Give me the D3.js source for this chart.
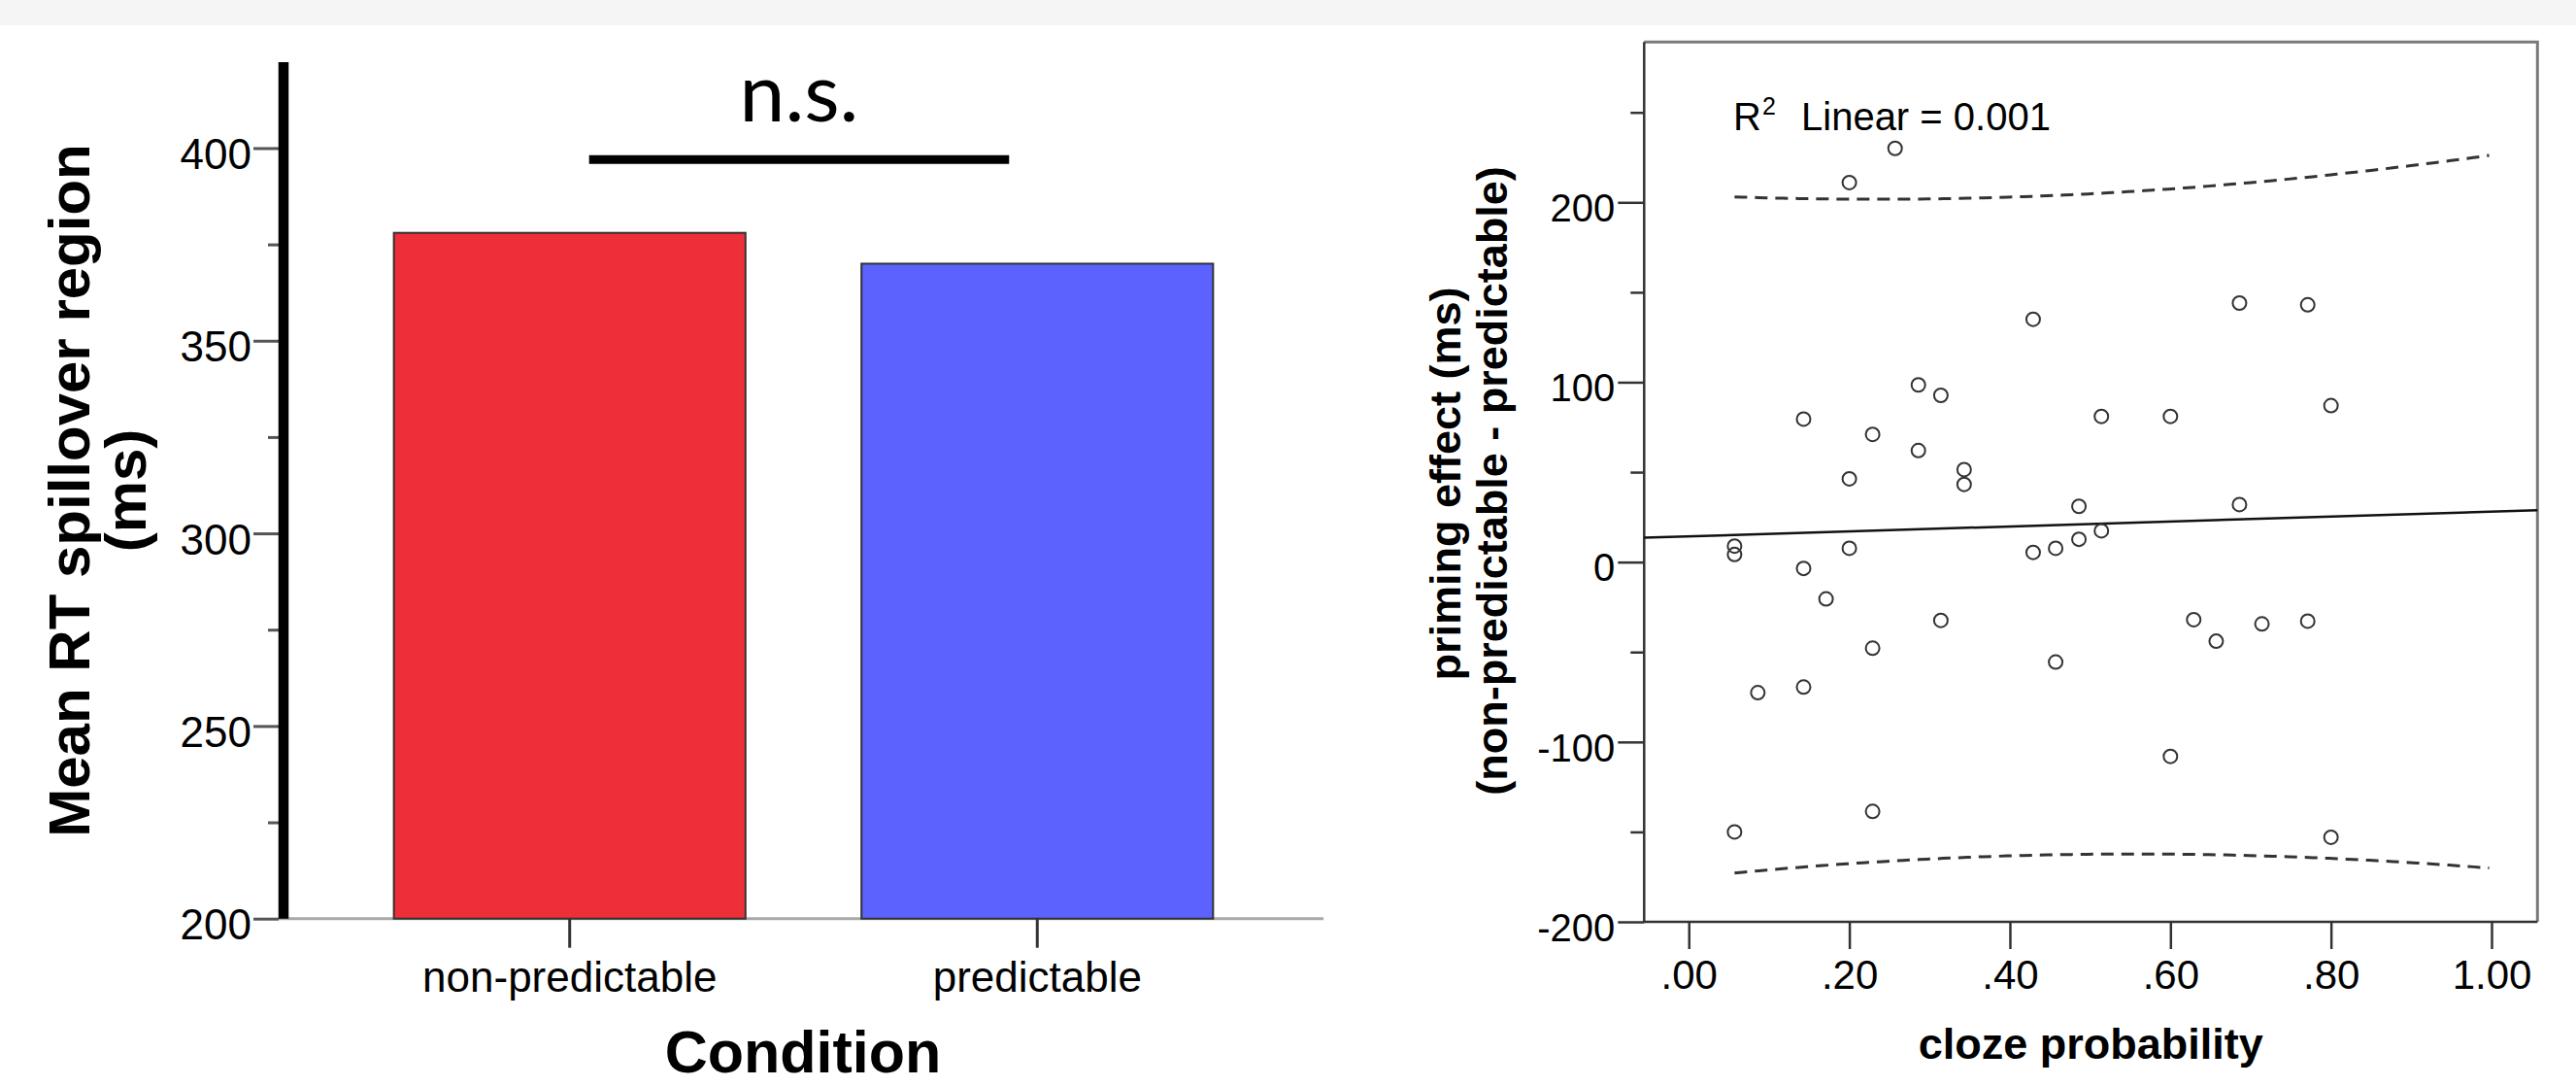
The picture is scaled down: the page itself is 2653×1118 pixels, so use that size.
<!DOCTYPE html>
<html lang="en">
	<head>
		<meta charset="UTF-8" />
		<title>Spillover RT and priming effect</title>
		<script src="https://d3js.org/d3.v7.min.js"></script>
		<style>
			body {
				margin: 0;
				padding: 0;
				background: #ffffff;
				font-family: "Liberation Sans", Arial, sans-serif;
			}
			svg {
				display: block;
			}
		</style>
	</head>
	<body>
		<svg width="2653" height="1118"></svg>
		<script>
			// ---- left panel data: mean RT per condition
			const categories = ["non-predictable", "predictable"];
			const meanRT = [378, 370];
			const barColors = ["#ee2f3a", "#5b62fe"];
			const rtTicks = [200, 250, 300, 350, 400];
			const rtMinorTicks = [225, 275, 325, 375];

			// ---- right panel data: cloze probability vs priming effect
			const cloze = [
				0.257, 0.2, 0.429, 0.686, 0.771, 0.286, 0.314, 0.143, 0.229, 0.514,
				0.6, 0.8, 0.286, 0.2, 0.343, 0.343, 0.486, 0.686, 0.514, 0.486,
				0.457, 0.429, 0.2, 0.057, 0.057, 0.143, 0.171, 0.314, 0.629, 0.657,
				0.714, 0.771, 0.229, 0.457, 0.086, 0.143, 0.6, 0.229, 0.057, 0.8,
			];
			const priming = [
				230, 211, 135, 144, 143, 98.5, 92.7, 79.5, 71, 81,
				81, 87, 62, 46.3, 51.4, 43.2, 31, 32, 17.4, 12.7,
				7.7, 5.4, 7.7, 8.9, 4.2, -3.5, -20.5, -32.4, -32, -44,
				-34.4, -32.8, -47.9, -55.6, -72.6, -69.5, -108, -138.6, -150, -153,
			];
			const clozeTicks = [0, 0.2, 0.4, 0.6, 0.8, 1.0];
			const primingTicks = [-200, -100, 0, 100, 200];
			const primingMinorTicks = [-150, -50, 50, 150, 250];
			const rSquared = "0.001";

			const svg = d3.select("svg");

			// faint slide background strip at the top
			svg
				.append("rect")
				.attr("x", 0)
				.attr("y", 0)
				.attr("width", 2653)
				.attr("height", 26)
				.style("fill", "#f5f5f5");

			// ================= LEFT: bar chart =================
			const y = d3.scaleLinear().domain([200, 422.3]).range([945.7, 64]);

			const x = d3
				.scaleBand()
				.domain(categories)
				.range([292, 1363])
				.paddingInner(0.248)
				.paddingOuter(0.236);

			const left = svg.append("g");

			// baseline
			left
				.append("line")
				.attr("x1", 287)
				.attr("x2", 1363)
				.attr("y1", y(200))
				.attr("y2", y(200))
				.style("stroke", "#a8a8a8")
				.style("stroke-width", 3);

			// bars
			left
				.selectAll(".bar")
				.data(meanRT)
				.enter()
				.append("rect")
				.attr("class", "bar")
				.attr("x", (d, i) => x(categories[i]))
				.attr("width", x.bandwidth())
				.attr("y", (d) => y(d))
				.attr("height", (d) => y(200) - y(d))
				.style("fill", (d, i) => barColors[i])
				.style("stroke", "#333")
				.style("stroke-width", 2);

			// minor ticks
			left
				.append("g")
				.attr("transform", "translate(287,0)")
				.call(d3.axisLeft(y).tickValues(rtMinorTicks).tickSize(11).tickFormat(""))
				.call((g) => g.select(".domain").remove())
				.selectAll("line")
				.style("stroke", "#555")
				.style("stroke-width", 3);

			// major ticks + labels
			const yAxis = left
				.append("g")
				.attr("transform", "translate(287,0)")
				.call(
					d3
						.axisLeft(y)
						.tickValues(rtTicks)
						.tickSize(26)
						.tickPadding(2)
						.tickFormat((d) => String(d))
				)
				.call((g) => g.select(".domain").remove());
			yAxis.selectAll("line").style("stroke", "#555").style("stroke-width", 3);
			yAxis
				.selectAll("text")
				.attr("dy", "0.48em")
				.style("font-family", "Liberation Sans, Arial, sans-serif")
				.style("font-size", "44px")
				.style("fill", "#000");

			// thick vertical axis
			left
				.append("line")
				.attr("x1", 292)
				.attr("x2", 292)
				.attr("y1", y(422.3))
				.attr("y2", y(200))
				.style("stroke", "#000")
				.style("stroke-width", 10.5);

			// category axis
			const xAxis = left
				.append("g")
				.attr("transform", `translate(0,${y(200)})`)
				.call(d3.axisBottom(x).tickSize(30).tickPadding(14))
				.call((g) => g.select(".domain").remove());
			xAxis.selectAll("line").style("stroke", "#333").style("stroke-width", 3);
			xAxis
				.selectAll("text")
				.style("font-family", "Liberation Sans, Arial, sans-serif")
				.style("font-size", "44px")
				.style("fill", "#000");

			left
				.append("text")
				.attr("x", 827)
				.attr("y", 1104)
				.attr("text-anchor", "middle")
				.style("font-size", "61px")
				.style("font-weight", "bold")
				.text("Condition");

			// rotated y label (two lines)
			left
				.append("text")
				.attr("transform", "translate(92,505) rotate(-90)")
				.attr("text-anchor", "middle")
				.style("font-size", "60px")
				.style("font-weight", "bold")
				.text("Mean RT spillover region");
			left
				.append("text")
				.attr("transform", "translate(150,505) rotate(-90)")
				.attr("text-anchor", "middle")
				.style("font-size", "60px")
				.style("font-weight", "bold")
				.text("(ms)");

			// significance bracket
			left
				.append("line")
				.attr("x1", x(categories[0]) + x.bandwidth() / 2 + 20)
				.attr("x2", x(categories[1]) + x.bandwidth() / 2 - 29)
				.attr("y1", y(397))
				.attr("y2", y(397))
				.style("stroke", "#000")
				.style("stroke-width", 9);
			left
				.append("text")
				.attr("x", 823)
				.attr("y", 125)
				.attr("text-anchor", "middle")
				.style("font-family", "Lato, 'Open Sans', sans-serif")
				.style("font-size", "84px")
				.text("n.s.");

			// ================= RIGHT: scatter =================
			const sx = d3.scaleLinear().domain([-0.0556, 1.0572]).range([1693.3, 2613.3]);
			const sy = d3.scaleLinear().domain([-200, 289.1]).range([949, 43.3]);

			const right = svg.append("g");

			// frame: lighter top/right, darker left/bottom
			right
				.append("path")
				.attr("d", `M${sx.range()[0]},${sy.range()[1]}H${sx.range()[1]}V${sy.range()[0]}`)
				.style("fill", "none")
				.style("stroke", "#7a7a7a")
				.style("stroke-width", 3);
			right
				.append("path")
				.attr("d", `M${sx.range()[0]},${sy.range()[1]}V${sy.range()[0]}H${sx.range()[1]}`)
				.style("fill", "none")
				.style("stroke", "#333")
				.style("stroke-width", 2.5);

			right
				.append("g")
				.attr("transform", `translate(${sx.range()[0]},0)`)
				.call(d3.axisLeft(sy).tickValues(primingMinorTicks).tickSize(14).tickFormat(""))
				.call((g) => g.select(".domain").remove())
				.selectAll("line")
				.style("stroke", "#333")
				.style("stroke-width", 2.5);

			const syAxis = right
				.append("g")
				.attr("transform", `translate(${sx.range()[0]},0)`)
				.call(
					d3
						.axisLeft(sy)
						.tickValues(primingTicks)
						.tickSize(27)
						.tickPadding(3)
						.tickFormat((d) => String(d))
				)
				.call((g) => g.select(".domain").remove());
			syAxis.selectAll("line").style("stroke", "#333").style("stroke-width", 2.5);
			syAxis
				.selectAll("text")
				.attr("dy", "0.48em")
				.style("font-family", "Liberation Sans, Arial, sans-serif")
				.style("font-size", "40px")
				.style("fill", "#000");

			const sxAxis = right
				.append("g")
				.attr("transform", `translate(0,${sy.range()[0]})`)
				.call(
					d3
						.axisBottom(sx)
						.tickValues(clozeTicks)
						.tickSize(28)
						.tickPadding(11)
						.tickFormat((d) => d.toFixed(2).replace(/^0/, ""))
				)
				.call((g) => g.select(".domain").remove());
			sxAxis.selectAll("line").style("stroke", "#333").style("stroke-width", 2.5);
			sxAxis
				.selectAll("text")
				.style("font-family", "Liberation Sans, Arial, sans-serif")
				.style("font-size", "42px")
				.style("fill", "#000");

			right
				.append("text")
				.attr("x", (sx.range()[0] + sx.range()[1]) / 2)
				.attr("y", 1090)
				.attr("text-anchor", "middle")
				.style("font-size", "45px")
				.style("font-weight", "bold")
				.text("cloze probability");

			right
				.append("text")
				.attr("transform", "translate(1504,498) rotate(-90)")
				.attr("text-anchor", "middle")
				.style("font-size", "45px")
				.style("font-weight", "bold")
				.text("priming effect (ms)");
			right
				.append("text")
				.attr("transform", "translate(1552,495) rotate(-90)")
				.attr("text-anchor", "middle")
				.style("font-size", "45px")
				.style("font-weight", "bold")
				.text("(non-predictable - predictable)");

			// linear fit and 95% prediction band
			const n = cloze.length;
			const xm = d3.mean(cloze);
			const ym = d3.mean(priming);
			const sxx = d3.sum(cloze, (c) => (c - xm) ** 2);
			const sxy = d3.sum(cloze, (c, i) => (c - xm) * (priming[i] - ym));
			const slope = sxy / sxx;
			const intercept = ym - slope * xm;
			const sse = d3.sum(cloze, (c, i) => (priming[i] - intercept - slope * c) ** 2);
			const se = Math.sqrt(sse / (n - 2));
			const tCrit = 2.024;
			const fit = (c) => intercept + slope * c;
			const half = (c) => tCrit * se * Math.sqrt(1 + 1 / n + (c - xm) ** 2 / sxx);

			const bandX = d3.range(d3.min(cloze), 1.0001, 0.01);
			const line = d3
				.line()
				.x((d) => sx(d[0]))
				.y((d) => sy(d[1]));

			right
				.append("path")
				.attr("d", line(sx.domain().map((c) => [c, fit(c)])))
				.style("fill", "none")
				.style("stroke", "#111")
				.style("stroke-width", 2.5);

			[1, -1].forEach((sgn) => {
				right
					.append("path")
					.attr("d", line(bandX.map((c) => [c, fit(c) + sgn * half(c)])))
					.style("fill", "none")
					.style("stroke", "#333")
					.style("stroke-width", 3)
					.style("stroke-dasharray", "13,8");
			});

			right
				.selectAll(".pt")
				.data(cloze)
				.enter()
				.append("circle")
				.attr("class", "pt")
				.attr("cx", (d) => sx(d))
				.attr("cy", (d, i) => sy(priming[i]))
				.attr("r", 7)
				.style("fill", "none")
				.style("stroke", "#333")
				.style("stroke-width", 2);

			// R squared annotation
			const r2 = right.append("text").style("font-size", "40px");
			r2.append("tspan").attr("x", 1785).attr("y", 134).text("R");
			r2.append("tspan").attr("x", 1815).attr("y", 118).style("font-size", "25px").text("2");
			r2.append("tspan").attr("x", 1855).attr("y", 134).text(`Linear = ${rSquared}`);
		</script>
	</body>
</html>
